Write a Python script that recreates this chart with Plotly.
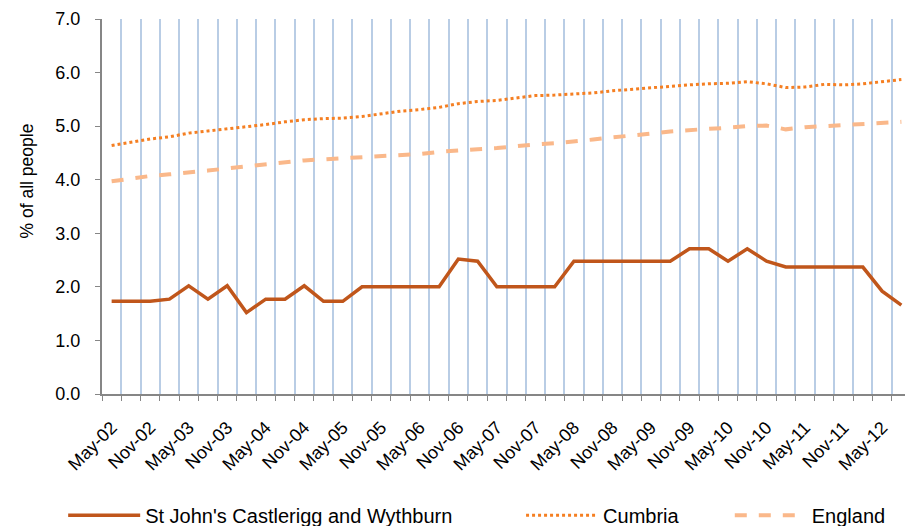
import plotly.graph_objects as go

quarters = ["May-02", "Aug-02", "Nov-02", "Feb-03", "May-03", "Aug-03", "Nov-03", "Feb-04",
            "May-04", "Aug-04", "Nov-04", "Feb-05", "May-05", "Aug-05", "Nov-05", "Feb-06",
            "May-06", "Aug-06", "Nov-06", "Feb-07", "May-07", "Aug-07", "Nov-07", "Feb-08",
            "May-08", "Aug-08", "Nov-08", "Feb-09", "May-09", "Aug-09", "Nov-09", "Feb-10",
            "May-10", "Aug-10", "Nov-10", "Feb-11", "May-11", "Aug-11", "Nov-11", "Feb-12",
            "May-12", "Aug-12"]

tick_labels = ["May-02", "", "Nov-02", "", "May-03", "", "Nov-03", "", "May-04", "", "Nov-04", "",
               "May-05", "", "Nov-05", "", "May-06", "", "Nov-06", "", "May-07", "", "Nov-07", "",
               "May-08", "", "Nov-08", "", "May-09", "", "Nov-09", "", "May-10", "", "Nov-10", "",
               "May-11", "", "Nov-11", "", "May-12", ""]

st_johns = [1.73, 1.73, 1.73, 1.77, 2.02, 1.77, 2.02, 1.52, 1.77, 1.77, 2.02, 1.73, 1.73, 2.0,
            2.0, 2.0, 2.0, 2.0, 2.52, 2.48, 2.0, 2.0, 2.0, 2.0, 2.48, 2.48, 2.48, 2.48, 2.48, 2.48,
            2.71, 2.71, 2.48, 2.71, 2.48, 2.37, 2.37, 2.37, 2.37, 2.37, 1.92, 1.66]

cumbria = [4.64, 4.70, 4.76, 4.80, 4.87, 4.91, 4.95, 4.98, 5.03, 5.08, 5.12, 5.14, 5.15, 5.18,
           5.23, 5.28, 5.31, 5.35, 5.42, 5.46, 5.48, 5.53, 5.57, 5.58, 5.60, 5.62, 5.66, 5.69,
           5.72, 5.74, 5.77, 5.79, 5.80, 5.83, 5.79, 5.72, 5.73, 5.78, 5.77, 5.79, 5.83, 5.87]

england = [3.97, 4.02, 4.07, 4.10, 4.13, 4.17, 4.21, 4.25, 4.29, 4.33, 4.36, 4.38, 4.40, 4.43,
           4.45, 4.46, 4.48, 4.52, 4.55, 4.57, 4.59, 4.63, 4.66, 4.68, 4.71, 4.75, 4.79, 4.82,
           4.86, 4.90, 4.93, 4.95, 4.97, 5.00, 5.01, 4.94, 4.98, 5.00, 5.01, 5.03, 5.05, 5.08]

y_title = "% of all people"

FONT = "Arial, Liberation Sans, sans-serif"

fig = go.Figure()
fig.add_trace(go.Scatter(x=quarters, y=st_johns, mode="lines",
                         name="St John's Castlerigg and Wythburn", legend="legend",
                         line=dict(color="#C0561B", width=3.5)))
fig.add_trace(go.Scatter(x=quarters, y=cumbria, mode="lines", name="Cumbria", legend="legend2",
                         line=dict(color="#F57F22", width=3, dash="dot")))
fig.add_trace(go.Scatter(x=quarters, y=england, mode="lines", name="England", legend="legend3",
                         line=dict(color="#FAB88A", width=4, dash="dash")))

leg_common = dict(orientation="h", y=-0.323, yanchor="middle", xanchor="left",
                  font=dict(size=20, family=FONT), bgcolor="rgba(0,0,0,0)", itemwidth=72)

# the page body adds an 8px offset, so the figure is 8px smaller on the top/left
fig.update_layout(
    width=905, height=518,
    margin=dict(l=94, r=2, t=11, b=132, autoexpand=False),
    paper_bgcolor="white", plot_bgcolor="white",
    font=dict(family=FONT, color="black"),
    showlegend=True,
    legend=dict(x=-0.048, **leg_common),
    legend2=dict(x=0.518, **leg_common),
    legend3=dict(x=0.776, **leg_common),
    xaxis=dict(type="category", range=[-0.5, 41.5],
               tickmode="array", tickvals=quarters, ticktext=tick_labels,
               tickson="boundaries", ticks="outside", ticklen=5, tickcolor="#868686",
               showgrid=True, gridcolor="#B9CDE5", gridwidth=1.5,
               showline=True, linecolor="#868686", linewidth=2,
               tickangle=-45, ticklabelstandoff=14, tickfont=dict(size=18, family=FONT)),
    yaxis=dict(range=[0, 7], dtick=1, tick0=0, tickformat=".1f",
               showgrid=False, zeroline=False,
               showline=True, linecolor="#868686", linewidth=2,
               ticks="outside", ticklen=5, tickcolor="#868686", ticklabelstandoff=11,
               tickfont=dict(size=18, family=FONT)),
    annotations=[dict(text=y_title, textangle=-90, xref="paper", yref="paper",
                      x=-0.093, y=0.569, xanchor="center", yanchor="middle",
                      showarrow=False, font=dict(size=17.5, family=FONT, color="black"))],
)

fig.write_html("out.html")
